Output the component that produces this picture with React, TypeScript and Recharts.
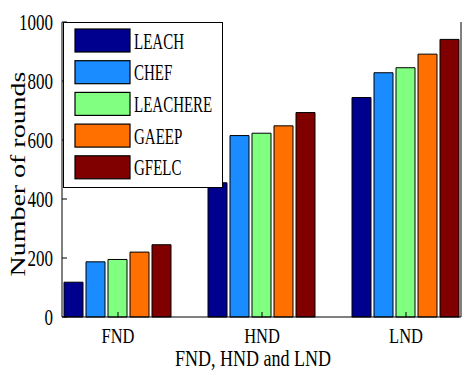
import { Bar, BarChart, Legend, XAxis, YAxis } from "recharts";

// MATLAB-style grouped bars: boxed axes, inward ticks, legend boxed in the top-left corner.
// The source figure is stretched vertically, so text gets a scaleY to match.

const categories = ["FND", "HND", "LND"];
const leach = [118, 455, 744];
const chef = [187, 615, 828];
const leachere = [195, 623, 845];
const gaeep = [220, 648, 891];
const gfelc = [245, 693, 941];
const yTicks = [0, 200, 400, 600, 800, 1000];

const SERIES: { name: string; values: number[]; color: string }[] = [
  { name: "LEACH", values: leach, color: "#00008f" },
  { name: "CHEF", values: chef, color: "#1a8cff" },
  { name: "LEACHERE", values: leachere, color: "#80ff80" },
  { name: "GAEEP", values: gaeep, color: "#ff7000" },
  { name: "GFELC", values: gfelc, color: "#800000" },
];

const data = categories.map((cat, i) => {
  const row: Record<string, string | number> = { cat };
  SERIES.forEach((s) => (row[s.name] = s.values[i]));
  return row;
});

const FONT = '"Liberation Serif", "Times New Roman", serif';

function LeftTick(props: any) {
  const { x, y, payload } = props;
  const edge = x + 8;
  return (
    <g>
      <line x1={edge} x2={edge + 5} y1={y} y2={y} stroke="#000" />
      <g transform={`translate(${x - 1},${y})`}>
        <text
          transform="scale(1,1.3)"
          textAnchor="end"
          dominantBaseline="central"
          fontFamily={FONT}
          fontSize={17}
          fill="#000"
        >
          {payload.value}
        </text>
      </g>
    </g>
  );
}

function RightTick(props: any) {
  const { x, y } = props;
  const edge = x - 8;
  return <line x1={edge} x2={edge - 5} y1={y} y2={y} stroke="#000" />;
}

function BottomTick(props: any) {
  const { x, y, payload } = props;
  const edge = y - 8;
  return (
    <g>
      <line x1={x} x2={x} y1={edge} y2={edge - 5} stroke="#000" />
      <g transform={`translate(${x},${y + 11})`}>
        <text
          transform="scale(1,1.3)"
          textAnchor="middle"
          dominantBaseline="central"
          fontFamily={FONT}
          fontSize={16.5}
          fill="#000"
        >
          {payload.value}
        </text>
      </g>
    </g>
  );
}

function TopTick(props: any) {
  const { x, y } = props;
  const edge = y + 8;
  return <line x1={x} x2={x} y1={edge} y2={edge + 5} stroke="#000" />;
}

// Legend drawn in series order (Recharts would sort the payload by name).
function LegendBox() {
  return (
    <svg width={160} height={166} style={{ display: "block" }}>
      <rect x={0.5} y={0.5} width={159} height={165} fill="#fff" stroke="#000" />
      {SERIES.map((s, i) => {
        const top = 7 + i * 31.7;
        return (
          <g key={s.name}>
            <rect x={12} y={top} width={55} height={23} fill={s.color} stroke="#000" strokeWidth={1.2} />
            <g transform={`translate(71,${top + 12})`}>
              <text
                transform="scale(1,1.5)"
                dominantBaseline="central"
                fontFamily={FONT}
                fontSize={15}
                fill="#000"
              >
                {s.name}
              </text>
            </g>
          </g>
        );
      })}
    </svg>
  );
}

export default function App() {
  return (
    <div style={{ position: "absolute", left: 0, top: 0, background: "#fff" }}>
      <BarChart
        width={462}
        height={372}
        data={data}
        margin={{ top: 22, right: 0, bottom: 0, left: 0 }}
        barCategoryGap={18}
        barGap={3}
      >
        <XAxis
          dataKey="cat"
          height={55}
          padding={{ left: -16, right: -17 }}
          axisLine={{ stroke: "#000" }}
          tickLine={false}
          tick={<BottomTick />}
          interval={0}
          label={{
            value: "FND, HND and LND",
            position: "insideBottom",
            content: () => (
              <g transform="translate(253,358)">
                <text
                  transform="scale(1,1.3)"
                  textAnchor="middle"
                  dominantBaseline="central"
                  fontFamily={FONT}
                  fontSize={18}
                  fill="#000"
                >
                  FND, HND and LND
                </text>
              </g>
            ),
          }}
        />
        <XAxis
          xAxisId="top"
          dataKey="cat"
          orientation="top"
          height={0}
          padding={{ left: -16, right: -17 }}
          axisLine={{ stroke: "#000" }}
          tickLine={false}
          tick={<TopTick />}
          interval={0}
        />
        <YAxis
          width={62}
          domain={[0, 1000]}
          ticks={yTicks}
          interval={0}
          axisLine={{ stroke: "#000" }}
          tickLine={false}
          tick={<LeftTick />}
          label={{
            value: "Number of rounds",
            content: () => (
              <g transform="translate(18,174) rotate(-90)">
                <text
                  transform="scale(1.3,1)"
                  textAnchor="middle"
                  dominantBaseline="central"
                  fontFamily={FONT}
                  fontSize={21.5}
                  fill="#000"
                >
                  Number of rounds
                </text>
              </g>
            ),
          }}
        />
        <YAxis
          yAxisId="right"
          orientation="right"
          width={1}
          domain={[0, 1000]}
          ticks={yTicks}
          interval={0}
          axisLine={{ stroke: "#000" }}
          tickLine={false}
          tick={<RightTick />}
        />
        {SERIES.map((s) => (
          <Bar
            key={s.name}
            dataKey={s.name}
            name={s.name}
            fill={s.color}
            stroke="#000"
            strokeWidth={1}
            isAnimationActive={false}
          />
        ))}
        <Legend
          layout="vertical"
          align="center"
          verticalAlign="middle"
          content={<LegendBox />}
          wrapperStyle={{ position: "absolute", left: 63, top: 22, width: 160, height: 166 }}
        />
      </BarChart>
    </div>
  );
}
